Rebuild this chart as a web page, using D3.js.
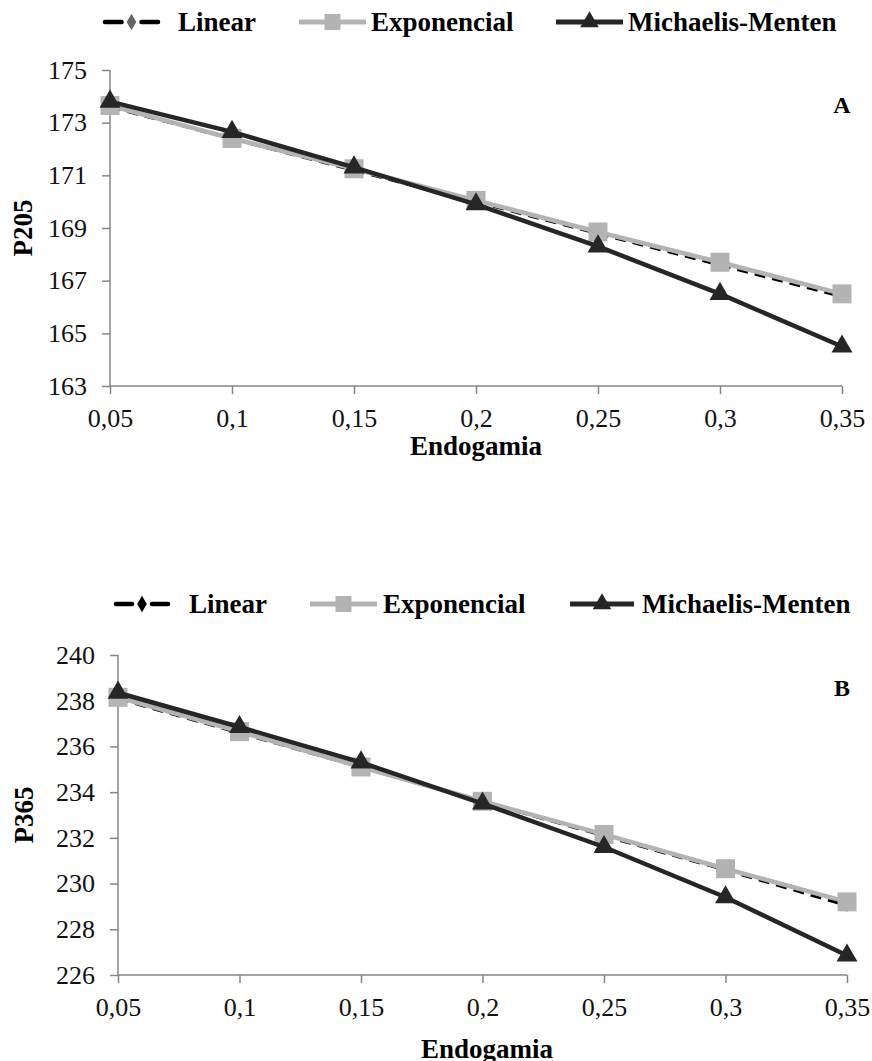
<!DOCTYPE html>
<html>
<head>
<meta charset="utf-8">
<script src="https://cdn.jsdelivr.net/npm/d3@7"></script>
<style>
  body { margin: 0; background: #fff; }
  svg { display: block; font-family: "Liberation Serif", "Times New Roman", serif; }
  .tick text { font-size: 26px; fill: #111; font-family: "Liberation Serif", "Times New Roman", serif; }
  .domain, .tick line { stroke: #868686; stroke-width: 1.5; }
</style>
</head>
<body>
<svg id="chart" width="872" height="1061"></svg>
<script>
// Endogamia levels (x axis)
const endogamia = [0.05, 0.1, 0.15, 0.2, 0.25, 0.3, 0.35];
const seriesNames = ["Linear", "Exponencial", "Michaelis-Menten"];

// Panel A - P205
const p205Linear = [173.6, 172.4, 171.2, 170.0, 168.8, 167.6, 166.4];
const p205Exponencial = [173.65, 172.4, 171.25, 170.05, 168.85, 167.7, 166.5];
const p205Michaelis = [173.8, 172.65, 171.3, 169.9, 168.3, 166.5, 164.5];
const p205Ticks = [163, 165, 167, 169, 171, 173, 175];

// Panel B - P365
const p365Linear = [238.1, 236.6, 235.1, 233.6, 232.1, 230.6, 229.05];
const p365Exponencial = [238.15, 236.65, 235.1, 233.6, 232.15, 230.65, 229.2];
const p365Michaelis = [238.35, 236.85, 235.3, 233.5, 231.6, 229.4, 226.85];
const p365Ticks = [226, 228, 230, 232, 234, 236, 238, 240];

const xTickLabels = ["0,05", "0,1", "0,15", "0,2", "0,25", "0,3", "0,35"];

const svg = d3.select("#chart");

function drawPanel(cfg) {
    const x = d3.scaleLinear().domain([0.05, 0.35]).range([cfg.left, cfg.right]);
    const y = d3.scaleLinear().domain(d3.extent(cfg.ticks)).range([cfg.bottom, cfg.top]);
    const g = svg.append("g");

    // axes
    const xAxis = g.append("g")
        .attr("transform", `translate(0,${cfg.bottom})`)
        .call(d3.axisBottom(x).tickValues(endogamia).tickSize(8).tickPadding(15)
            .tickFormat((d, i) => xTickLabels[i]));
    const yAxis = g.append("g")
        .attr("transform", `translate(${cfg.left},0)`)
        .call(d3.axisLeft(y).tickValues(cfg.ticks).tickSize(8).tickPadding(15).tickFormat(d3.format("d")));
    [xAxis, yAxis].forEach(a => a.attr("font-family", null).attr("font-size", null));
    // domain paths without the outer ticks
    xAxis.select(".domain").attr("d", `M${cfg.left},0H${cfg.right}`);
    yAxis.select(".domain").attr("d", `M0,${cfg.top}V${cfg.bottom}`);

    // axis titles
    g.append("text")
        .attr("x", cfg.xTitleX).attr("y", cfg.xTitleY)
        .attr("text-anchor", "middle")
        .attr("font-size", 27).attr("font-weight", "bold")
        .text("Endogamia");
    g.append("text")
        .attr("transform", `translate(${cfg.yTitleX},${cfg.yTitleY}) rotate(-90)`)
        .attr("text-anchor", "middle")
        .attr("font-size", 27).attr("font-weight", "bold")
        .text(cfg.yTitle);
    g.append("text")
        .attr("x", cfg.letterX).attr("y", cfg.letterY)
        .attr("text-anchor", "middle")
        .attr("font-size", 24).attr("font-weight", "bold")
        .text(cfg.letter);

    const line = d3.line().x((d, i) => x(endogamia[i])).y(d => y(d));

    // Linear
    g.append("path").datum(cfg.linear)
        .attr("d", line).attr("fill", "none")
        .attr("stroke", "#000").attr("stroke-width", 3.5).attr("stroke-dasharray", "11,7");
    g.selectAll(".lin").data(cfg.linear).enter().append("path")
        .attr("transform", (d, i) => `translate(${x(endogamia[i])},${y(d)})`)
        .attr("d", d3.symbol(d3.symbolDiamond, 50)).attr("fill", cfg.linMarker);

    // Exponencial
    g.append("path").datum(cfg.exp)
        .attr("d", line).attr("fill", "none")
        .attr("stroke", "#b3b3b3").attr("stroke-width", 4.5);
    g.selectAll(".exp").data(cfg.exp).enter().append("rect")
        .attr("x", (d, i) => x(endogamia[i]) - 9.5).attr("y", d => y(d) - 9.5)
        .attr("width", 19).attr("height", 19).attr("fill", "#b3b3b3");

    // Michaelis-Menten
    g.append("path").datum(cfg.mm)
        .attr("d", line).attr("fill", "none")
        .attr("stroke", "#262626").attr("stroke-width", 4.5);
    g.selectAll(".mm").data(cfg.mm).enter().append("path")
        .attr("transform", (d, i) => `translate(${x(endogamia[i])},${y(d)})`)
        .attr("d", d3.symbol(d3.symbolTriangle, 190)).attr("fill", "#262626");

    // legend
    const ly = cfg.legendY;
    const lg = g.append("g");
    const it = cfg.legend;
    // Linear: dash - marker - dash
    const lm = (it[0][0] + it[0][1]) / 2;
    [[it[0][0], lm - 10], [lm + 10, it[0][1]]].forEach(s => {
        lg.append("line").attr("x1", s[0]).attr("x2", s[1]).attr("y1", ly).attr("y2", ly)
            .attr("stroke", "#000").attr("stroke-width", 4.5).attr("stroke-linecap", "round");
    });
    lg.append("path").attr("transform", `translate(${lm},${ly})`)
        .attr("d", d3.symbol(d3.symbolDiamond, 80)).attr("fill", cfg.linMarker);
    // Exponencial
    lg.append("line").attr("x1", it[1][0]).attr("x2", it[1][1]).attr("y1", ly).attr("y2", ly)
        .attr("stroke", "#b3b3b3").attr("stroke-width", 5);
    lg.append("rect").attr("x", (it[1][0] + it[1][1]) / 2 - 8).attr("y", ly - 8)
        .attr("width", 16).attr("height", 16).attr("fill", "#b3b3b3");
    // Michaelis-Menten
    lg.append("line").attr("x1", it[2][0]).attr("x2", it[2][1]).attr("y1", ly).attr("y2", ly)
        .attr("stroke", "#262626").attr("stroke-width", 5);
    lg.append("path").attr("transform", `translate(${(it[2][0] + it[2][1]) / 2},${ly})`)
        .attr("d", d3.symbol(d3.symbolTriangle, 150)).attr("fill", "#262626");

    seriesNames.forEach((n, i) => {
        lg.append("text").attr("x", it[i][2]).attr("y", ly + 9)
            .attr("font-size", 27).attr("font-weight", "bold").text(n);
    });
}

drawPanel({
    left: 110, right: 842, top: 70, bottom: 386,
    ticks: p205Ticks, linear: p205Linear, exp: p205Exponencial, mm: p205Michaelis,
    yTitle: "P205", yTitleX: 32, yTitleY: 228,
    xTitleX: 476, xTitleY: 455,
    letter: "A", letterX: 842, letterY: 113,
    linMarker: "#666",
    legendY: 22,
    legend: [[105, 158, 178], [299, 366, 371], [556, 623, 628]]
});

drawPanel({
    left: 118, right: 847, top: 655, bottom: 975,
    ticks: p365Ticks, linear: p365Linear, exp: p365Exponencial, mm: p365Michaelis,
    yTitle: "P365", yTitleX: 33, yTitleY: 815,
    xTitleX: 487, xTitleY: 1058,
    letter: "B", letterX: 842, letterY: 696,
    linMarker: "#000",
    legendY: 604,
    legend: [[116, 168, 189], [310, 377, 383], [570, 634, 642]]
});
</script>
</body>
</html>
